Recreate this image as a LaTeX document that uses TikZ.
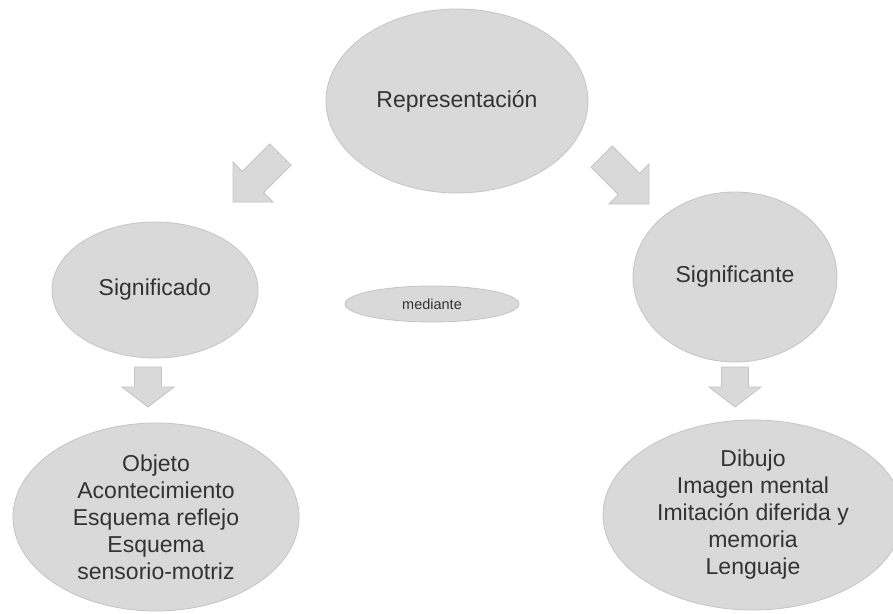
\documentclass[tikz,border=0pt]{standalone}
\usepackage{fontspec}
\setmainfont{Liberation Sans}
\usetikzlibrary{shapes.geometric}
\definecolor{fillgray}{HTML}{D9D9D9}
\definecolor{edgegray}{HTML}{C4C4C4}
\definecolor{txtgray}{HTML}{333333}
\begin{document}
\begin{tikzpicture}[x=1pt,y=-1pt,
  bubble/.style={ellipse, fill=fillgray, draw=edgegray, line width=0.8pt, inner sep=0pt,
    text=txtgray, font=\fontsize{23}{27}\selectfont, align=center},
  blockarrow/.style={fill=fillgray, draw=edgegray, line width=0.8pt, line join=miter}]
\useasboundingbox (0,0) rectangle (893,613);
\clip (0,0) rectangle (893,613);

\node[bubble, minimum width=262pt, minimum height=184pt] (rep) at (457,101) {Representación};
\node[bubble, minimum width=206pt, minimum height=136pt] (sdo) at (155,290) {Significado};
\node[bubble, minimum width=204pt, minimum height=170pt] (ste) at (735,277) {Significante};
\node[bubble, minimum width=174pt, minimum height=36pt, font=\fontsize{14.5}{17}\selectfont] (med) at (432,304) {mediante};
\node[bubble, minimum width=286pt, minimum height=188pt] (obj) at (156,517)
  {Objeto\\Acontecimiento\\Esquema reflejo\\Esquema\\sensorio-motriz};
\node[bubble, minimum width=300pt, minimum height=190pt] (dib) at (753,515)
  {Dibujo\\Imagen mental\\Imitación diferida y\\memoria\\Lenguaje};

% diagonal block arrows
\draw[blockarrow] (269.8,144) -- (291,165.2) -- (263.6,192.6) -- (273,202) -- (233,202)
  -- (233,162) -- (242.4,171.4) -- cycle;
\draw[blockarrow] (591,167.2) -- (612.2,146) -- (639.6,173.4) -- (649,164) -- (649,204)
  -- (609,204) -- (618.4,194.6) -- cycle;

% downward block arrows
\draw[blockarrow] (134.5,367) -- (161.5,367) -- (161.5,387) -- (174,387) -- (148,407)
  -- (122,387) -- (134.5,387) -- cycle;
\draw[blockarrow] (721.5,367) -- (748.5,367) -- (748.5,387) -- (761,387) -- (735,407)
  -- (709,387) -- (721.5,387) -- cycle;
\end{tikzpicture}
\end{document}
